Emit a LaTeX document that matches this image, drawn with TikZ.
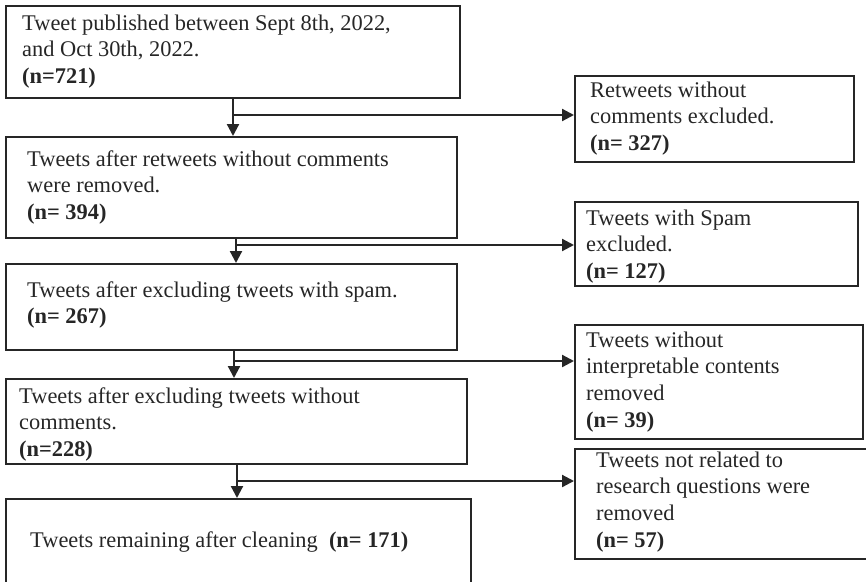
\documentclass[tikz,border=0pt]{standalone}
\usepackage{fontspec}
\setmainfont{Liberation Serif}
\usetikzlibrary{arrows.meta}
\begin{document}
\begin{tikzpicture}[x=1pt,y=-1pt,
  box/.style args={#1/#2}{draw=black!85, line width=2.3pt, anchor=north west,
    inner sep=0pt, minimum width=#1pt, minimum height=#2pt},
  txt/.style={anchor=base west, inner sep=0pt, text=black!85,
    font=\fontsize{22.4}{26.7}\selectfont},
  conn/.style={draw=black!85, line width=2.2pt},
  arr/.style={conn, -{Triangle[length=12pt,width=12pt]}}]
\useasboundingbox (0,0) rectangle (866,581);
\clip (0,0) rectangle (866,581);
% main column boxes
\node[box=454/92]  (b1) at (5,5) {};
\node[box=451/101] (b2) at (5,136) {};
\node[box=451/86]  (b3) at (5,263) {};
\node[box=461/85]  (b4) at (5,378) {};
\node[box=465/110] (b5) at (5,498) {};
% exclusion boxes
\node[box=279/86]  (r1) at (574,75) {};
\node[box=283/84]  (r2) at (574,201) {};
\node[box=288/114] (r3) at (574,324) {};
\node[box=300/110] (r4) at (574,448) {};
% texts
\node[txt] (t1) at (22,30) {\begin{tabular}[t]{@{}l@{}}Tweet published between Sept 8th, 2022,\\and Oct 30th, 2022.\\\textbf{(n=721)}\end{tabular}};
\node[txt] (t2) at (27,166) {\begin{tabular}[t]{@{}l@{}}Tweets after retweets without comments\\were removed.\\\textbf{(n= 394)}\end{tabular}};
\node[txt] (t3) at (27,297) {\begin{tabular}[t]{@{}l@{}}Tweets after excluding tweets with spam.\\\textbf{(n= 267)}\end{tabular}};
\node[txt] (t4) at (19,403) {\begin{tabular}[t]{@{}l@{}}Tweets after excluding tweets without\\comments.\\\textbf{(n=228)}\end{tabular}};
\node[txt] (t5) at (30,547) {Tweets remaining after cleaning\ \ \textbf{(n= 171)}};
\node[txt] (s1) at (590,97) {\begin{tabular}[t]{@{}l@{}}Retweets without\\comments excluded.\\\textbf{(n= 327)}\end{tabular}};
\node[txt] (s2) at (586,225) {\begin{tabular}[t]{@{}l@{}}Tweets with Spam\\excluded.\\\textbf{(n= 127)}\end{tabular}};
\node[txt] (s3) at (586,347) {\begin{tabular}[t]{@{}l@{}}Tweets without\\interpretable contents\\removed\\\textbf{(n= 39)}\end{tabular}};
\node[txt] (s4) at (596,467) {\begin{tabular}[t]{@{}l@{}}Tweets not related to\\research questions were\\removed\\\textbf{(n= 57)}\end{tabular}};
% junctions
\coordinate (j1) at (233,115);
\coordinate (j2) at (236,245);
\coordinate (j3) at (234,361);
\coordinate (j4) at (237,481);
% connectors
\draw[arr] (b1.south -| j1) -- (b2.north -| j1);
\draw[arr] (j1) -- (r1.west |- j1);
\draw[arr] (b2.south -| j2) -- (b3.north -| j2);
\draw[arr] (j2) -- (r2.west |- j2);
\draw[arr] (b3.south -| j3) -- (b4.north -| j3);
\draw[arr] (j3) -- (r3.west |- j3);
\draw[arr] (b4.south -| j4) -- (b5.north -| j4);
\draw[arr] (j4) -- (r4.west |- j4);
\end{tikzpicture}
\end{document}
